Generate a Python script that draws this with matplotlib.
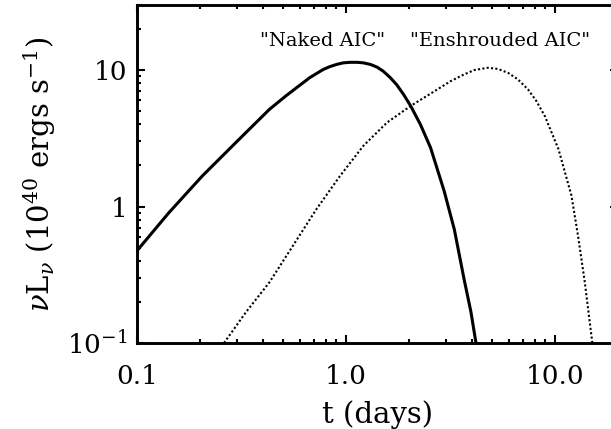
import numpy as np
import matplotlib
matplotlib.use("Agg")
import matplotlib.pyplot as plt
from matplotlib.ticker import NullFormatter, LogLocator

plt.rcParams["font.family"] = "DejaVu Serif"
plt.rcParams["mathtext.fontset"] = "dejavuserif"

# "Naked AIC" light curve
t_naked = [0.1, 0.142, 0.205, 0.297, 0.430, 0.518, 0.623, 0.671, 0.778, 0.837,
           0.902, 0.971, 1.045, 1.13, 1.21, 1.31, 1.41, 1.51, 1.63, 1.75,
           1.89, 2.04, 2.27, 2.54, 2.95, 3.30, 3.68, 3.96, 4.19]
L_naked = [0.474, 0.90, 1.67, 2.94, 5.15, 6.5, 8.07, 8.8, 10.1, 10.6,
           11.0, 11.3, 11.4, 11.4, 11.3, 11.0, 10.5, 9.8, 8.8, 7.8,
           6.6, 5.46, 4.0, 2.7, 1.3, 0.68, 0.29, 0.17, 0.1]

# "Enshrouded AIC" light curve
t_shroud = [0.261, 0.332, 0.430, 0.557, 0.722, 0.935, 1.21, 1.57, 2.04, 2.74,
            3.17, 3.68, 4.11, 4.77, 5.33, 5.96, 6.65, 7.43, 8.15, 8.95,
            10.4, 12.0, 12.9, 13.9, 15.1]
L_shroud = [0.1, 0.168, 0.278, 0.515, 0.956, 1.67, 2.78, 4.12, 5.46, 7.22,
            8.3, 9.3, 10.0, 10.4, 10.2, 9.55, 8.55, 7.22, 5.93, 4.6,
            2.63, 1.20, 0.61, 0.278, 0.1]

xticks = [0.1, 1.0, 10.0]
xtick_labels = ["0.1", "1.0", "10.0"]
yticks = [0.1, 1, 10]
ytick_labels = [r"$10^{-1}$", "1", "10"]

fig = plt.figure(figsize=(6.11, 4.29), dpi=100)
ax = fig.add_axes([0.2242, 0.2005, 0.787, 0.7879])

ax.plot(t_naked, L_naked, color="black", lw=2.2, solid_joinstyle="round")
ax.plot(t_shroud, L_shroud, color="black", lw=1.5, linestyle=(0, (1, 1.1)))

ax.set_xscale("log")
ax.set_yscale("log")
ax.set_xlim(0.1, 20)
ax.set_ylim(0.1, 30)

ax.set_xticks(xticks, xtick_labels)
ax.set_yticks(yticks, ytick_labels)
ax.xaxis.set_minor_locator(LogLocator(base=10, subs=np.arange(2, 10)))
ax.yaxis.set_minor_locator(LogLocator(base=10, subs=np.arange(2, 10)))
ax.xaxis.set_minor_formatter(NullFormatter())
ax.yaxis.set_minor_formatter(NullFormatter())

ax.tick_params(which="both", direction="in", top=True, right=True, width=1.5,
               labelsize=19)
ax.tick_params(which="major", length=6)
ax.tick_params(which="minor", length=3.1)
ax.tick_params(axis="x", pad=15)
ax.tick_params(axis="y", pad=7)
for s in ax.spines.values():
    s.set_linewidth(2.1)

ax.set_xlabel("t (days)", fontsize=21, labelpad=8)
ax.set_ylabel(r"$\nu$L$_\nu$ (10$^{40}$ ergs s$^{-1}$)", fontsize=21, labelpad=6)

ax.text(0.256, 0.879, '"Naked AIC"', transform=ax.transAxes, fontsize=14, va="baseline")
ax.text(0.568, 0.879, '"Enshrouded AIC"', transform=ax.transAxes, fontsize=14, va="baseline")

fig.savefig("out.png", dpi=100)
